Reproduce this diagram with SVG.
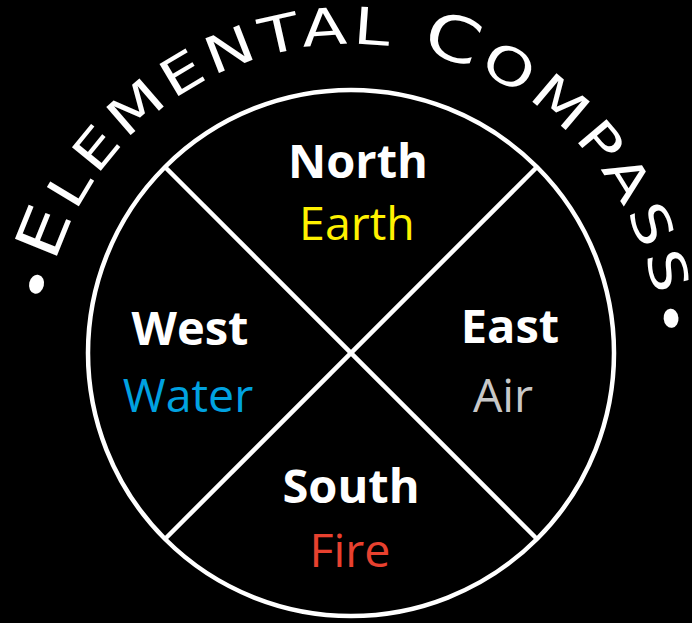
<svg xmlns="http://www.w3.org/2000/svg" width="692" height="623" viewBox="0 0 692 623">
  <style>
    .dir { font-family: "Open Sans", "Noto Sans", sans-serif; font-weight: 700; font-size: 47px; fill: #ffffff; text-anchor: middle; }
    .elem { font-family: "Open Sans", "Noto Sans", sans-serif; font-weight: 400; font-size: 46.5px; text-anchor: middle; }
    .ring { fill: none; stroke: #ffffff; stroke-width: 4.5; }
    .title { font-family: "DejaVu Sans", "Liberation Sans", sans-serif; font-size: 51px; letter-spacing: 4px; fill: #ffffff; }
    .big { font-size: 62px; }
  </style>
  <defs>
    <path id="arc" d="M46.7,406.7 A309,309 0 1 1 655.3,406.7"/>
  </defs>
  <rect x="0" y="0" width="692" height="623" fill="#000000"/>

  <g id="title">
    <text class="title"><textPath href="#arc" startOffset="101" textLength="914" lengthAdjust="spacingAndGlyphs"><tspan dy="6">•</tspan><tspan class="big" dy="-6">E</tspan>LEMENTAL <tspan class="big">C</tspan>OMPASS<tspan dy="6">•</tspan></textPath></text>
  </g>

  <g id="compass-ring">
    <circle class="ring" cx="351" cy="353" r="263"/>
  </g>

  <g id="connectors">
    <line class="ring" x1="165" y1="167" x2="537" y2="539"/>
    <line class="ring" x1="537" y1="167" x2="165" y2="539"/>
  </g>

  <g id="node-north">
    <text class="dir" x="358" y="178">North</text>
    <text class="elem" x="357" y="240" fill="#FFF200">Earth</text>
  </g>
  <g id="node-west">
    <text class="dir" x="190" y="345">West</text>
    <text class="elem" x="188" y="412" fill="#00A2E0">Water</text>
  </g>
  <g id="node-east">
    <text class="dir" x="510" y="343">East</text>
    <text class="elem" x="503" y="412" fill="#C8C8C8">Air</text>
  </g>
  <g id="node-south">
    <text class="dir" x="351" y="503">South</text>
    <text class="elem" x="350" y="567" fill="#E8412F">Fire</text>
  </g>
</svg>
